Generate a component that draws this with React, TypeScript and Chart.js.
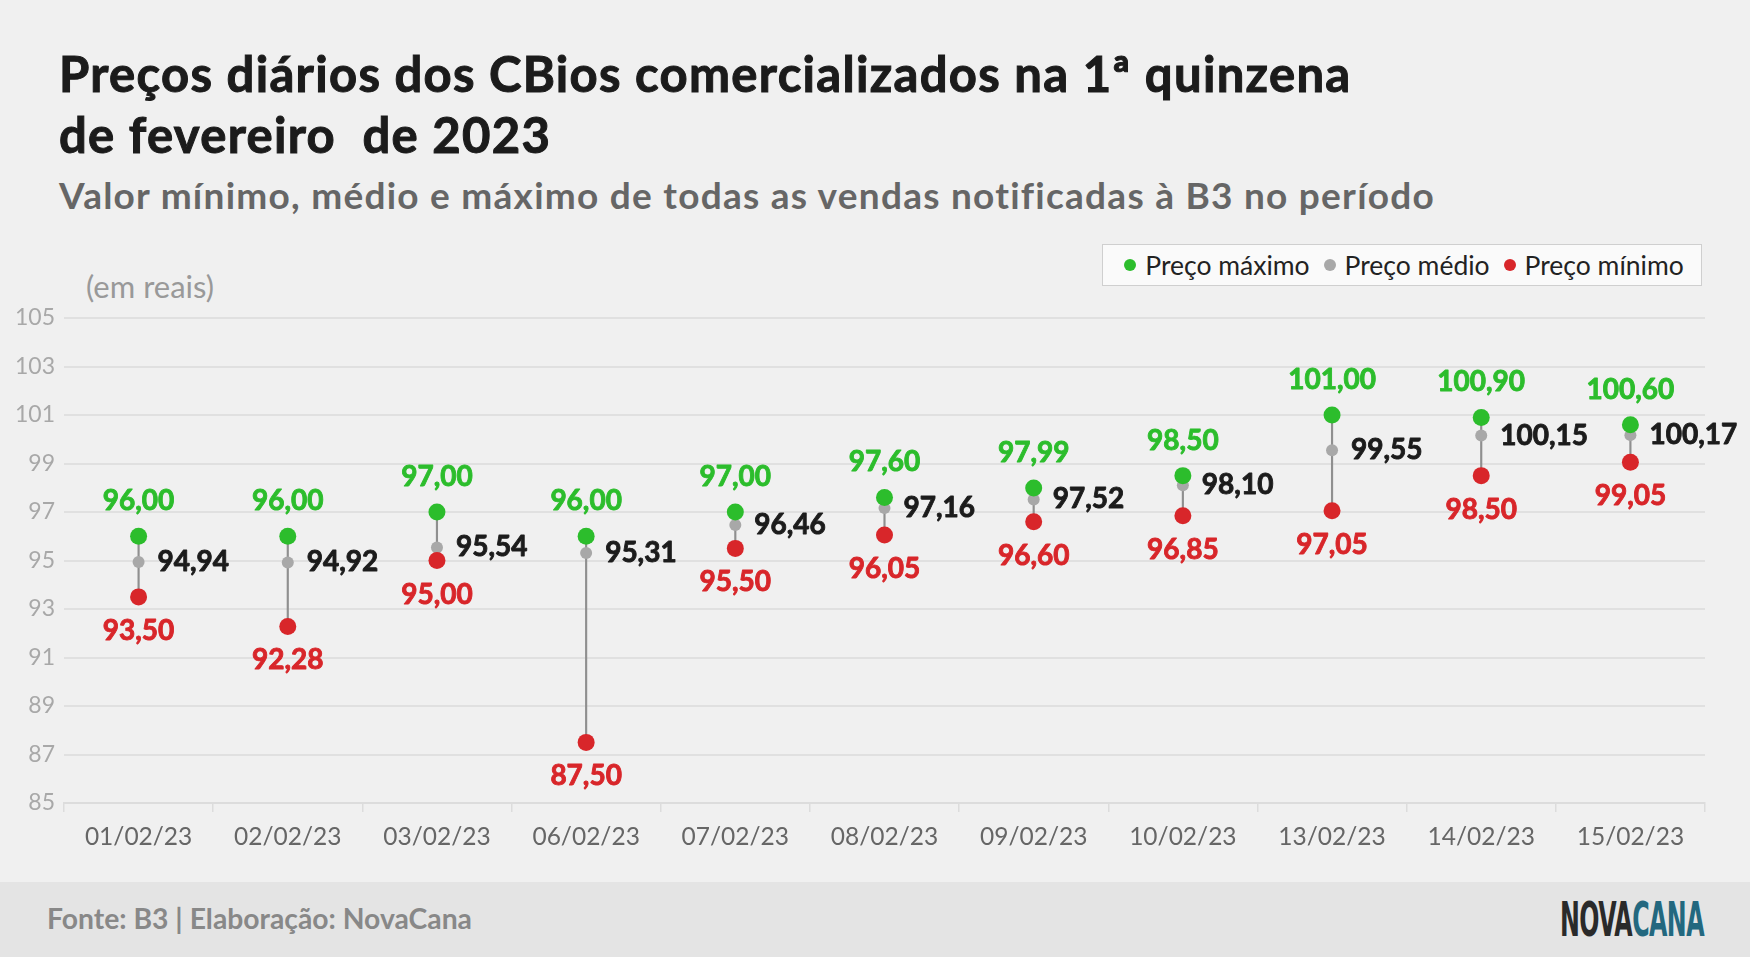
import { useEffect, useRef } from "react";
import { Chart, registerables } from "chart.js";

Chart.register(...registerables);

const dates = [
  "01/02/23", "02/02/23", "03/02/23", "06/02/23", "07/02/23", "08/02/23",
  "09/02/23", "10/02/23", "13/02/23", "14/02/23", "15/02/23",
];
const maxPrice = [96.0, 96.0, 97.0, 96.0, 97.0, 97.6, 97.99, 98.5, 101.0, 100.9, 100.6];
const avgPrice = [94.94, 94.92, 95.54, 95.31, 96.46, 97.16, 97.52, 98.1, 99.55, 100.15, 100.17];
const minPrice = [93.5, 92.28, 95.0, 87.5, 95.5, 96.05, 96.6, 96.85, 97.05, 98.5, 99.05];

const GREEN = "#2cbd2c";
const GREY = "#a8a8a8";
const RED = "#d8262a";
const FONT = "Lato, 'Noto Sans', sans-serif";

const fmt = (v: number) => v.toFixed(2).replace(".", ",");

// draws the value next to each dot (with a thin stroke so it looks heavier)
const valueLabels = {
  id: "valueLabels",
  afterDatasetsDraw(chart: Chart) {
    const ctx = chart.ctx;
    ctx.save();
    ctx.font = `bold 28px ${FONT}`;
    ctx.textBaseline = "middle";
    ctx.lineWidth = 0.9;
    ctx.lineJoin = "round";
    chart.data.datasets.forEach((ds: any, i: number) => {
      const role = ds.role;
      if (!role) return;
      const meta = chart.getDatasetMeta(i);
      meta.data.forEach((pt: any, j: number) => {
        const v = ds.data[j] as number;
        let x = pt.x;
        let y = pt.y;
        let color = "#1c1c1c";
        if (role === "max") {
          color = GREEN;
          ctx.textAlign = "center";
          y = pt.y - 35;
        } else if (role === "min") {
          color = RED;
          ctx.textAlign = "center";
          y = pt.y + 34;
        } else {
          ctx.textAlign = "left";
          x = pt.x + 19;
        }
        ctx.fillStyle = color;
        ctx.strokeStyle = color;
        ctx.fillText(fmt(v), x, y);
        ctx.strokeText(fmt(v), x, y);
      });
    });
    ctx.restore();
  },
};

export default function App() {
  const canvasRef = useRef<HTMLCanvasElement>(null);
  const chartRef = useRef<Chart | null>(null);

  useEffect(() => {
    if (!canvasRef.current) return;
    if (chartRef.current) chartRef.current.destroy();
    const ctx = canvasRef.current.getContext("2d");
    if (!ctx) return;

    chartRef.current = new Chart(ctx, {
      type: "bar",
      data: {
        labels: dates,
        datasets: [
          {
            type: "line",
            role: "max",
            label: "Preço máximo",
            data: maxPrice,
            showLine: false,
            pointRadius: 8.5,
            pointBackgroundColor: GREEN,
            pointBorderWidth: 0,
            order: 1,
          } as any,
          {
            type: "line",
            role: "min",
            label: "Preço mínimo",
            data: minPrice,
            showLine: false,
            pointRadius: 8.5,
            pointBackgroundColor: RED,
            pointBorderWidth: 0,
            order: 2,
          } as any,
          {
            type: "line",
            role: "avg",
            label: "Preço médio",
            data: avgPrice,
            showLine: false,
            pointRadius: 6,
            pointBackgroundColor: GREY,
            pointBorderWidth: 0,
            order: 3,
          } as any,
          {
            type: "bar",
            label: "range",
            data: minPrice.map((m, i) => [m, maxPrice[i]]),
            backgroundColor: "#8f8f8f",
            barThickness: 1.5,
            order: 10,
          } as any,
        ],
      },
      options: {
        animation: false,
        responsive: false,
        layout: { padding: { top: 318, right: 45, bottom: 0, left: 0 } },
        plugins: {
          legend: { display: false },
          tooltip: { enabled: false },
        },
        scales: {
          x: {
            offset: true,
            grid: {
              offset: true,
              drawOnChartArea: false,
              drawTicks: true,
              tickLength: 9,
              color: "#dcdcdc",
              lineWidth: 1.5,
            },
            border: { color: "#dcdcdc", width: 2 },
            ticks: {
              color: "#666",
              font: { family: FONT, size: 24.5 },
              padding: 10,
              maxRotation: 0,
            },
            afterFit: (s: any) => {
              s.height = 154;
            },
          },
          y: {
            min: 85,
            max: 105,
            ticks: {
              stepSize: 2,
              color: "#a8a8a8",
              font: { family: FONT, size: 23 },
              padding: 9,
            },
            grid: { color: "#e0e0e0", lineWidth: 2, drawTicks: false },
            border: { display: false },
            afterFit: (s: any) => {
              s.width = 64;
            },
          },
        },
      },
      plugins: [valueLabels],
    } as any);

    return () => {
      if (chartRef.current) {
        chartRef.current.destroy();
        chartRef.current = null;
      }
    };
  }, []);

  const legendItem = (color: string, text: string, last = false) => (
    <span style={{ display: "inline-flex", alignItems: "center", marginRight: last ? 0 : 14 }}>
      <span
        style={{
          width: 12,
          height: 12,
          borderRadius: "50%",
          background: color,
          display: "inline-block",
          marginRight: 9,
        }}
      />
      {text}
    </span>
  );

  return (
    <div
      style={{
        position: "absolute",
        left: 0,
        top: 0,
        width: 1750,
        height: 957,
        background: "#f0f0f0",
        fontFamily: FONT,
        overflow: "hidden",
      }}
    >
      <div
        style={{
          position: "absolute",
          left: 59,
          top: 43,
          fontSize: 49,
          lineHeight: "61px",
          fontWeight: 700,
          letterSpacing: 1.3,
          WebkitTextStroke: "1px #1b1b1b",
          color: "#1b1b1b",
          whiteSpace: "pre",
        }}
      >
        {"Preços diários dos CBios comercializados na 1ª quinzena\nde fevereiro  de 2023"}
      </div>
      <div
        style={{
          position: "absolute",
          left: 59,
          top: 172,
          fontSize: 37,
          lineHeight: "46px",
          fontWeight: 700,
          letterSpacing: 1.25,
          color: "#666",
          whiteSpace: "pre",
        }}
      >
        Valor mínimo, médio e máximo de todas as vendas notificadas à B3 no período
      </div>
      <div
        style={{
          position: "absolute",
          left: 86,
          top: 268,
          fontSize: 31,
          lineHeight: "36px",
          color: "#999",
        }}
      >
        (em reais)
      </div>
      <canvas
        ref={canvasRef}
        width={1750}
        height={957}
        style={{ position: "absolute", left: 0, top: 0, width: 1750, height: 957 }}
      />
      <div
        style={{
          position: "absolute",
          left: 1102,
          top: 244,
          width: 600,
          height: 42,
          boxSizing: "border-box",
          border: "1.5px solid #cfcfcf",
          background: "#fafafa",
          display: "flex",
          alignItems: "center",
          justifyContent: "center",
          fontSize: 26.5,
          color: "#222",
          paddingLeft: 4,
        }}
      >
        {legendItem(GREEN, "Preço máximo")}
        {legendItem(GREY, "Preço médio")}
        {legendItem(RED, "Preço mínimo", true)}
      </div>
      <div
        style={{
          position: "absolute",
          left: 0,
          top: 882,
          width: 1750,
          height: 75,
          background: "#e4e4e4",
        }}
      >
        <div
          style={{
            position: "absolute",
            left: 47,
            top: 19,
            fontSize: 28.3,
            fontWeight: 700,
            color: "#888",
            whiteSpace: "pre",
          }}
        >
          Fonte: B3 | Elaboração: NovaCana
        </div>
        <div
          style={{
            position: "absolute",
            left: 1560,
            top: 9,
            fontSize: 48,
            fontWeight: 700,
            fontFamily: "'DejaVu Sans Condensed', sans-serif",
            whiteSpace: "pre",
            transform: "scaleX(0.55)",
            transformOrigin: "left top",
            letterSpacing: -1,
          }}
        >
          <span style={{ color: "#2a2a2a" }}>NOVA</span>
          <span style={{ color: "#23687f" }}>CANA</span>
        </div>
      </div>
    </div>
  );
}
